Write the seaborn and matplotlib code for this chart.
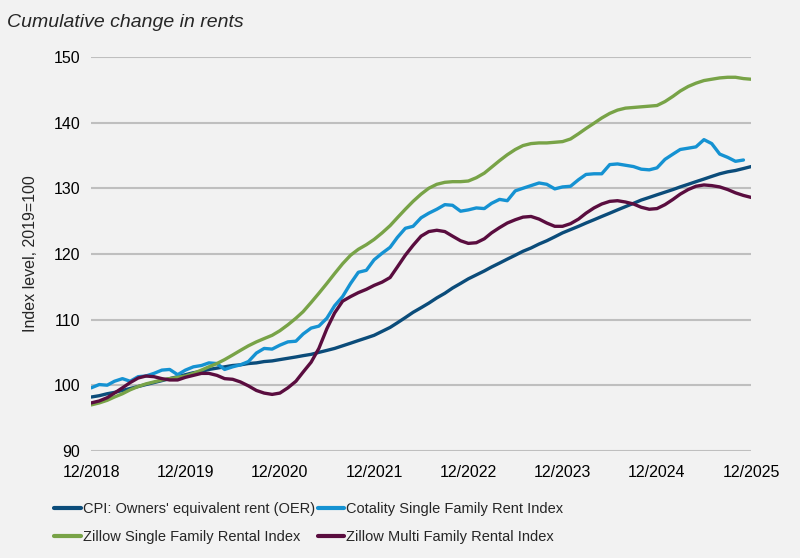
import pandas as pd
import seaborn as sns
import matplotlib.pyplot as plt
import matplotlib.dates as mdates

# monthly values, 12/2018 .. 12/2025
months = pd.date_range('2018-12-01', '2025-12-01', freq='MS')

oer = [98.2,
       98.4, 98.7, 98.9, 99.2, 99.5, 99.8, 100.1, 100.4, 100.7, 101.0, 101.3, 101.6,
       101.9, 102.1, 102.4, 102.6, 102.8, 103.0, 103.1, 103.3, 103.4, 103.6, 103.7, 103.9,
       104.1, 104.3, 104.5, 104.7, 105.0, 105.3, 105.6, 106.0, 106.4, 106.8, 107.2, 107.6,
       108.2, 108.8, 109.5, 110.3, 111.1, 111.8, 112.5, 113.3, 114.0, 114.8, 115.5, 116.2,
       116.8, 117.4, 118.0, 118.6, 119.2, 119.8, 120.4, 120.9, 121.5, 122.0, 122.6, 123.2,
       123.7, 124.2, 124.7, 125.2, 125.7, 126.2, 126.7, 127.2, 127.7, 128.2, 128.6, 129.0,
       129.4, 129.8, 130.2, 130.6, 131.0, 131.4, 131.8, 132.2, 132.5, 132.7, 133.0, 133.3]

cotality = [99.6,
            100.1, 100.0, 100.6, 101.0, 100.6, 101.3, 101.4, 101.8, 102.3, 102.4, 101.6, 102.3,
            102.8, 103.0, 103.4, 103.3, 102.4, 102.8, 103.1, 103.6, 104.9, 105.6, 105.5, 106.1,
            106.6, 106.7, 107.8, 108.7, 109.0, 110.2, 112.1, 113.5, 115.5, 117.2, 117.5, 119.1,
            120.1, 121.0, 122.5, 123.9, 124.2, 125.5, 126.2, 126.8, 127.5, 127.4, 126.5, 126.7,
            127.0, 126.9, 127.7, 128.3, 128.1, 129.6, 130.0, 130.4, 130.8, 130.6, 129.9, 130.2,
            130.3, 131.3, 132.1, 132.2, 132.2, 133.6, 133.7, 133.5, 133.3, 132.9, 132.8, 133.1,
            134.4, 135.2, 135.9, 136.1, 136.3, 137.4, 136.8, 135.2, 134.7, 134.1, 134.3, None]

zillow_sfr = [97.0,
              97.3, 97.7, 98.2, 98.7, 99.3, 99.8, 100.2, 100.5, 100.8, 101.0, 101.2, 101.4,
              101.8, 102.3, 102.8, 103.3, 103.9, 104.6, 105.3, 106.0, 106.6, 107.1, 107.6, 108.3,
              109.2, 110.2, 111.2, 112.6, 114.0, 115.5, 117.0, 118.5, 119.8, 120.7, 121.4, 122.2,
              123.2, 124.3, 125.5, 126.8, 128.0, 129.1, 130.0, 130.6, 130.9, 131.0, 131.0, 131.1,
              131.6, 132.3, 133.2, 134.2, 135.1, 135.9, 136.5, 136.8, 136.9, 136.9, 137.0, 137.1,
              137.5, 138.3, 139.1, 139.9, 140.7, 141.4, 141.9, 142.2, 142.3, 142.4, 142.5, 142.6,
              143.2, 144.0, 144.8, 145.5, 146.0, 146.4, 146.6, 146.8, 146.9, 146.9, 146.7, 146.6]

zillow_mfr = [97.3,
              97.6, 98.1, 98.8, 99.6, 100.4, 101.1, 101.4, 101.3, 101.0, 100.8, 100.8, 101.2,
              101.5, 101.8, 101.8, 101.5, 101.0, 100.9, 100.5, 99.9, 99.2, 98.8, 98.6, 98.8,
              99.6, 100.6, 102.0, 103.5, 105.6, 108.6, 111.0, 112.8, 113.5, 114.1, 114.6, 115.2,
              115.7, 116.4, 118.0, 119.8, 121.3, 122.7, 123.4, 123.6, 123.4, 122.7, 122.0, 121.6,
              121.7, 122.3, 123.2, 124.0, 124.7, 125.2, 125.6, 125.7, 125.3, 124.7, 124.2, 124.2,
              124.6, 125.3, 126.2, 127.0, 127.6, 128.0, 128.1, 127.9, 127.6, 127.1, 126.8, 126.9,
              127.5, 128.3, 129.1, 129.8, 130.3, 130.5, 130.4, 130.2, 129.8, 129.3, 128.9, 128.6]

names = ["CPI: Owners' equivalent rent (OER)", "Cotality Single Family Rent Index",
         "Zillow Single Family Rental Index", "Zillow Multi Family Rental Index"]
colors = ['#0b4c7a', '#1592d2', '#78a347', '#5a0d3f']

df = pd.DataFrame({'date': months, names[0]: oer, names[1]: cotality,
                   names[2]: zillow_sfr, names[3]: zillow_mfr})
long = df.melt(id_vars='date', var_name='series', value_name='value').dropna()

bg = '#f2f2f2'
sns.set_style('white')
plt.rcParams['font.family'] = ['Liberation Sans', 'DejaVu Sans']

fig = plt.figure(figsize=(8, 5.58), dpi=100, facecolor=bg)
ax = fig.add_axes([0.114, 0.192, 0.825, 0.706], facecolor=bg)

sns.lineplot(data=long, x='date', y='value', hue='series', hue_order=names,
             palette=dict(zip(names, colors)), linewidth=2.4, ax=ax, legend=False)

ax.set_ylim(90, 150)
ax.set_yticks(range(90, 151, 10))
ax.set_xlim(months[0], months[-1])
ax.set_xticks(pd.date_range('2018-12-01', '2025-12-01', freq='12MS'))
ax.xaxis.set_major_formatter(mdates.DateFormatter('%m/%Y'))
ax.grid(axis='y', color='#bfbfbf', linewidth=1.5)
ax.grid(axis='x', visible=False)
for s in ax.spines.values():
    s.set_visible(False)
ax.tick_params(length=0, labelsize=11.5, colors='#000000')
ax.tick_params(axis='x', pad=10)
ax.tick_params(axis='y', pad=8)
ax.set_xlabel('')
ax.set_ylabel('Index level, 2019=100', fontsize=11.5, labelpad=11)

fig.text(0.009, 0.952, 'Cumulative change in rents',
         style='italic', fontsize=14, ha='left', va='baseline')

# legend fills column-wise: reorder so rows read OER, Cotality / Zillow SFR, Zillow MF
order = [0, 2, 1, 3]
handles = [plt.Line2D([], [], color=colors[i], linewidth=3) for i in order]
fig.legend(handles, [names[i] for i in order], loc='upper left',
           bbox_to_anchor=(0.068, 0.101), ncol=2, frameon=False, fontsize=10.5,
           handlelength=1.8, handletextpad=0.15, columnspacing=0.2,
           borderpad=0, borderaxespad=0, labelspacing=1.0)

fig.savefig('out.png', dpi=100, facecolor=bg)
